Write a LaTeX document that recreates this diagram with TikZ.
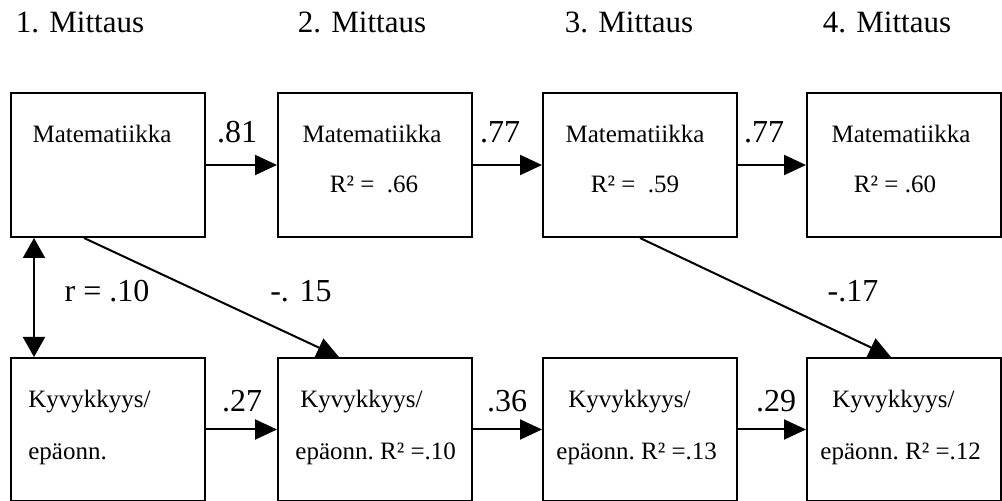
\documentclass[tikz,border=0pt]{standalone}
\usepackage{fontspec}
\setmainfont{Liberation Serif}
\usetikzlibrary{arrows.meta, positioning, calc}
\tikzset{
  box/.style={draw, line width=1pt, minimum width=97pt, minimum height=72pt, inner sep=0pt},
  boxtxt/.style={font=\fontsize{12.5}{15}\selectfont, inner sep=0pt},
  coef/.style={font=\fontsize{16}{19}\selectfont, inner sep=0pt, anchor=base},
  head/.style={font=\fontsize{15.5}{18}\selectfont, inner sep=0pt, anchor=base},
  arrow/.style={-{Triangle[length=11pt, width=10pt]}, line width=1pt},
  biarrow/.style={{Triangle[length=10pt, width=11pt]}-{Triangle[length=10pt, width=11pt]}, line width=1pt},
}

\begin{document}
\begin{tikzpicture}[x=0.5pt, y=-0.5pt]
  \useasboundingbox (0,0) rectangle (1002,501);
  % measurement headers
  \foreach \i/\x in {1/80, 2/362, 3/629, 4/887}
    \node[head] (h\i) at (\x,33) {\i. Mittaus};
  % boxes: maths on top, ability below
  \foreach \i/\x in {1/108, 2/375, 3/640, 4/904} {
    \node[box] (m\i) at (\x,165) {};
    \node[box, minimum height=71.5pt] (k\i) at (\x,429.5) {};
  }
  \node[boxtxt, anchor=base] (mt1) at (102,143) {Matematiikka};
  \node[boxtxt, anchor=base] (mt2) at (372,143) {Matematiikka};
  \node[boxtxt, anchor=base] (mr2) at (374,193) {R² =\ \ .66};
  \node[boxtxt, anchor=base] (mt3) at (635,143) {Matematiikka};
  \node[boxtxt, anchor=base] (mr3) at (635,193) {R² =\ \ .59};
  \node[boxtxt, anchor=base] (mt4) at (901,143) {Matematiikka};
  \node[boxtxt, anchor=base] (mr4) at (895,193) {R² = .60};
  \node[boxtxt, anchor=base west] (kt1) at (28,408) {Kyvykkyys/};
  \node[boxtxt, anchor=base west] (ke1) at (28,460) {epäonn.};
  \node[boxtxt, anchor=base west] (kt2) at (300,408) {Kyvykkyys/};
  \node[boxtxt, anchor=base west] (ke2) at (295,460) {epäonn.\ R² =.10};
  \node[boxtxt, anchor=base west] (kt3) at (568,408) {Kyvykkyys/};
  \node[boxtxt, anchor=base west] (ke3) at (556,460) {epäonn.\ R² =.13};
  \node[boxtxt, anchor=base west] (kt4) at (832,408) {Kyvykkyys/};
  \node[boxtxt, anchor=base west] (ke4) at (820,460) {epäonn.\ R² =.12};
  % paths
  \draw[arrow] (m1) -- (m2);
  \draw[arrow] (m2) -- (m3);
  \draw[arrow] (m3) -- (m4);
  \draw[arrow] (k1) -- (k2);
  \draw[arrow] (k2) -- (k3);
  \draw[arrow] (k3) -- (k4);
  \draw[biarrow] ([xshift=12pt]m1.south west) -- ([xshift=12pt]k1.north west);
  \draw[arrow] ([xshift=37pt]m1.south west) -- ([xshift=31pt]k2.north west);
  \draw[arrow] (m3.south) -- ([xshift=42.5pt]k4.north west);
  % coefficients
  \node[coef] (c12) at (237,143) {.81};
  \node[coef] (c23) at (500,143) {.77};
  \node[coef] (c34) at (764,143) {.77};
  \node[coef] (d12) at (242,412) {.27};
  \node[coef] (d23) at (507,412) {.36};
  \node[coef] (d34) at (776,412) {.29};
  \node[coef] (r1) at (107,302) {r = .10};
  \node[coef] (x12) at (301,302) {-. 15};
  \node[coef] (x34) at (853,302) {-.17};
\end{tikzpicture}
\end{document}
